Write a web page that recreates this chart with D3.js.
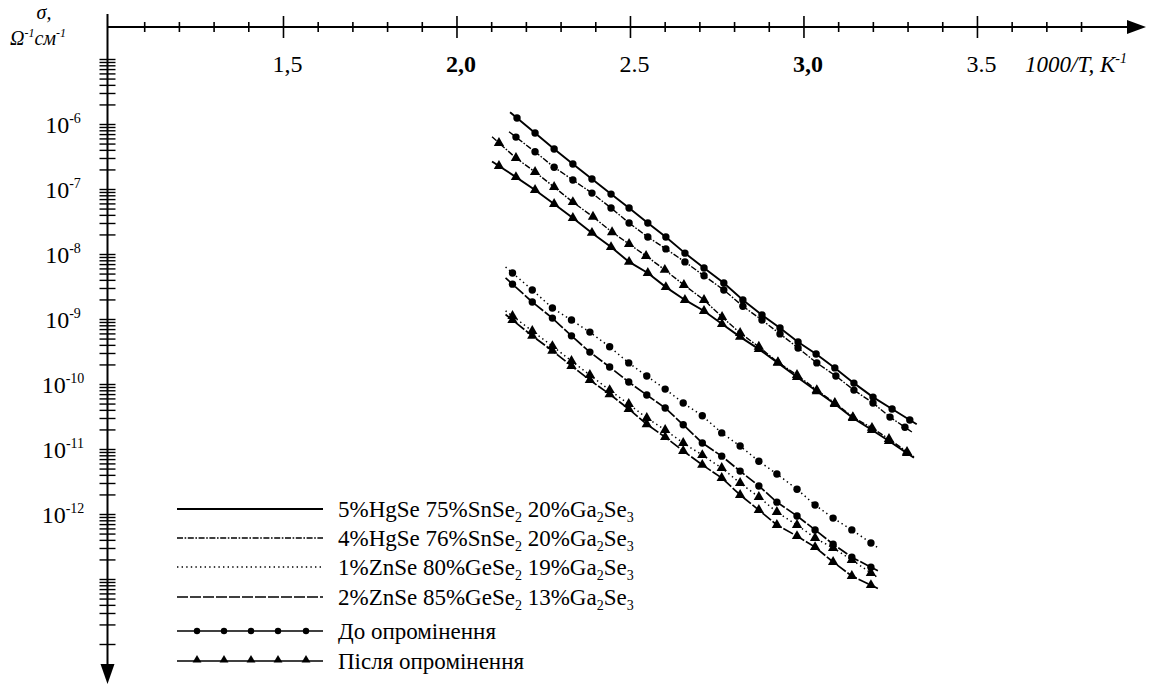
<!DOCTYPE html>
<html>
<head>
<meta charset="utf-8">
<script src="https://cdn.jsdelivr.net/npm/d3@7"></script>
<style>
  body { margin: 0; background: #fff; }
</style>
</head>
<body>
<div id="chart"></div>
<script>
// ---- data: 1000/T (K^-1) and conductivity sigma (Ohm^-1 cm^-1) ----
// 5%HgSe 75%SnSe2 20%Ga2Se3, before irradiation
const hg5Before_x = [2.173, 2.225, 2.28, 2.334, 2.389, 2.444, 2.496, 2.55, 2.602, 2.657, 2.712, 2.769, 2.824, 2.879, 2.931, 2.983, 3.035, 3.089, 3.144, 3.199, 3.254, 3.305];
const hg5Before = [1.26e-6, 7.4e-7, 4.2e-7, 2.47e-7, 1.45e-7, 8.5e-8, 5.2e-8, 3.05e-8, 1.86e-8, 1.05e-8, 6.2e-9, 3.65e-9, 2.0e-9, 1.17e-9, 7.4e-10, 4.5e-10, 2.94e-10, 1.8e-10, 1.05e-10, 6.4e-11, 4.2e-11, 2.85e-11];
// 4%HgSe 76%SnSe2 20%Ga2Se3, before irradiation
const hg4Before_x = [2.17, 2.225, 2.28, 2.334, 2.389, 2.444, 2.496, 2.55, 2.602, 2.657, 2.712, 2.769, 2.824, 2.879, 2.931, 2.983, 3.037, 3.092, 3.144, 3.199, 3.248, 3.291];
const hg4Before = [6.4e-7, 3.8e-7, 2.2e-7, 1.4e-7, 8.8e-8, 5.2e-8, 3.05e-8, 1.86e-8, 1.22e-8, 7.7e-9, 4.7e-9, 2.85e-9, 1.6e-9, 9.8e-10, 6.0e-10, 3.65e-10, 2.15e-10, 1.35e-10, 8.2e-11, 5.2e-11, 3.15e-11, 2.2e-11];
// 4%HgSe, after irradiation
const hg4After_x = [2.121, 2.17, 2.225, 2.28, 2.334, 2.392, 2.447, 2.496, 2.545, 2.599, 2.654, 2.712, 2.764, 2.816, 2.87, 2.925, 2.98, 3.037, 3.089, 3.141, 3.196, 3.245, 3.297];
const hg4After = [5.2e-7, 3.05e-7, 1.86e-7, 1.09e-7, 6.4e-8, 3.8e-8, 2.2e-8, 1.45e-8, 9.5e-9, 5.8e-9, 3.4e-9, 2.0e-9, 1.09e-9, 6.2e-10, 3.8e-10, 2.2e-10, 1.4e-10, 8.2e-11, 5.2e-11, 3.15e-11, 2.15e-11, 1.45e-11, 9.2e-12];
// 5%HgSe, after irradiation
const hg5After_x = [2.121, 2.17, 2.225, 2.28, 2.334, 2.389, 2.444, 2.496, 2.55, 2.602, 2.657, 2.712, 2.764, 2.816, 2.87, 2.925, 2.98, 3.037, 3.089, 3.141, 3.196, 3.245, 3.297];
const hg5After = [2.3e-7, 1.55e-7, 9.8e-8, 6.0e-8, 3.65e-8, 2.15e-8, 1.3e-8, 7.7e-9, 5.2e-9, 3.15e-9, 2.0e-9, 1.35e-9, 8.5e-10, 5.4e-10, 3.5e-10, 2.15e-10, 1.3e-10, 7.9e-11, 5.0e-11, 3.05e-11, 2.0e-11, 1.35e-11, 8.8e-12];
// ZnSe compositions share the temperature points
const zn_x = [2.16, 2.217, 2.275, 2.33, 2.383, 2.44, 2.495, 2.547, 2.6, 2.652, 2.707, 2.763, 2.816, 2.87, 2.922, 2.98, 3.032, 3.084, 3.138, 3.193];
// 1%ZnSe 80%GeSe2 19%Ga2Se3
const zn1Before = [5.2e-9, 2.85e-9, 1.5e-9, 9.8e-10, 6.4e-10, 3.8e-10, 2.15e-10, 1.35e-10, 8.5e-11, 5.2e-11, 3.3e-11, 1.8e-11, 1.13e-11, 6.6e-12, 4.2e-12, 2.45e-12, 1.4e-12, 8.8e-13, 5.8e-13, 3.65e-13];
const zn1After = [1.13e-9, 6.65e-10, 3.9e-10, 2.3e-10, 1.4e-10, 8.2e-11, 5.0e-11, 3.05e-11, 2.0e-11, 1.26e-11, 8.2e-12, 5.2e-12, 3.05e-12, 1.86e-12, 1.09e-12, 6.9e-13, 4.35e-13, 3.05e-13, 2.0e-13, 1.26e-13];
// 2%ZnSe 85%GeSe2 13%Ga2Se3
const zn2Before = [3.5e-9, 1.86e-9, 1.05e-9, 5.6e-10, 3.15e-10, 1.86e-10, 1.09e-10, 6.9e-11, 4.35e-11, 2.4e-11, 1.26e-11, 7.9e-12, 4.65e-12, 2.75e-12, 1.55e-12, 9.5e-13, 5.8e-13, 3.5e-13, 2.2e-13, 1.55e-13];
const zn2After = [9.8e-10, 5.6e-10, 3.3e-10, 1.93e-10, 1.17e-10, 7.1e-11, 4.2e-11, 2.45e-11, 1.55e-11, 9.5e-12, 5.8e-12, 3.65e-12, 2.0e-12, 1.17e-12, 6.9e-13, 4.65e-13, 3.15e-13, 1.86e-13, 1.13e-13, 8.2e-14];

// axis ticks / labels
const xMajor = [1.5, 2.0, 2.5, 3.0, 3.5];
const xMajorLabels = ["1,5", "2,0", "2.5", "3,0", "3.5"];
const xMajorBold = [false, true, false, true, false];
const yLabelExps = [-6, -7, -8, -9, -10, -11, -12];

// composition styles (line dash) for legend and curves
const compositions = [
    { key: "hg5", dash: null, width: 1.9, parts: [["5%HgSe 75%SnSe"], ["2", 1], [" 20%Ga"], ["2", 1], ["Se"], ["3", 1]] },
    { key: "hg4", dash: "6,1.6,1.6,1.6", width: 1.4, parts: [["4%HgSe 76%SnSe"], ["2", 1], [" 20%Ga"], ["2", 1], ["Se"], ["3", 1]] },
    { key: "zn1", dash: "1.4,3.2", width: 1.5, parts: [["1%ZnSe 80%GeSe"], ["2", 1], [" 19%Ga"], ["2", 1], ["Se"], ["3", 1]] },
    { key: "zn2", dash: "11,2", width: 1.7, parts: [["2%ZnSe 85%GeSe"], ["2", 1], [" 13%Ga"], ["2", 1], ["Se"], ["3", 1]] }
];

const series = [
    { comp: "hg5", marker: "circle", xs: hg5Before_x, ys: hg5Before },
    { comp: "hg4", marker: "circle", xs: hg4Before_x, ys: hg4Before },
    { comp: "hg4", marker: "triangle", xs: hg4After_x, ys: hg4After },
    { comp: "hg5", marker: "triangle", xs: hg5After_x, ys: hg5After },
    { comp: "zn1", marker: "circle", xs: zn_x, ys: zn1Before },
    { comp: "zn2", marker: "circle", xs: zn_x, ys: zn2Before },
    { comp: "zn1", marker: "triangle", xs: zn_x, ys: zn1After },
    { comp: "zn2", marker: "triangle", xs: zn_x, ys: zn2After }
];

const width = 1149, height = 687;
const serif = "'Liberation Serif', 'Times New Roman', Tinos, 'DejaVu Serif', serif";

const svg = d3.select("#chart")
    .append("svg")
    .attr("width", width)
    .attr("height", height)
    .attr("font-family", serif)
    .style("font-family", serif);

// scales
const x = d3.scaleLinear().domain([1, 3.98]).range([110, 1144]);
const y = d3.scaleLog().domain([1e-5, 1e-14]).range([59.5, 644.5]);

const axisY = 27;      // pixel row of the 1000/T axis
const axisX = 107.5;   // pixel column of the sigma axis

// ****************** x axis (top) ***************************
svg.append("line")
    .attr("x1", axisX).attr("x2", 1130)
    .attr("y1", axisY).attr("y2", axisY)
    .attr("stroke", "#000").attr("stroke-width", 1.8);

svg.append("path")
    .attr("d", `M1146,${axisY} L1127,${axisY - 7} L1127,${axisY + 7} Z`)
    .attr("fill", "#000");

const xMinor = d3.range(11, 39).map(d => d / 10);
const isMajor = d => xMajor.some(m => Math.abs(m - d) < 1e-6);
svg.selectAll("line.xtick")
    .data(xMinor)
    .enter()
    .append("line")
    .attr("class", "xtick")
    .attr("x1", d => x(d)).attr("x2", d => x(d))
    .attr("y1", d => isMajor(d) ? axisY - 11 : axisY - 5)
    .attr("y2", d => isMajor(d) ? axisY + 11 : axisY + 5)
    .attr("stroke", "#000").attr("stroke-width", 1.6);

svg.selectAll("text.xlabel")
    .data(xMajor)
    .enter()
    .append("text")
    .attr("class", "xlabel")
    .attr("x", d => x(d) + 4)
    .attr("y", 72)
    .attr("text-anchor", "middle")
    .style("font-size", "24px")
    .style("font-weight", (d, i) => xMajorBold[i] ? "bold" : "normal")
    .text((d, i) => xMajorLabels[i]);

const xTitle = svg.append("text")
    .attr("x", 1025).attr("y", 72)
    .style("font-size", "23px")
    .style("font-style", "italic");
xTitle.append("tspan").text("1000/T, K");
xTitle.append("tspan").attr("dy", -9).style("font-size", "14px").text("-1");

// ****************** y axis (log) ***************************
svg.append("line")
    .attr("x1", axisX).attr("x2", axisX)
    .attr("y1", 14).attr("y2", 670)
    .attr("stroke", "#000").attr("stroke-width", 2);

svg.append("path")
    .attr("d", `M${axisX},684 L${axisX - 7},664 L${axisX + 7},664 Z`)
    .attr("fill", "#000");

const yTicks = [1e-5];
for (let n = -6; n >= -14; n--) {
    for (let k = 9; k >= 1; k--) yTicks.push(k * Math.pow(10, n));
}

svg.selectAll("line.ytick")
    .data(yTicks)
    .enter()
    .append("line")
    .attr("class", "ytick")
    .attr("x1", axisX - 8).attr("x2", axisX + 8)
    .attr("y1", d => y(d)).attr("y2", d => y(d))
    .attr("stroke", "#000").attr("stroke-width", 1.4);

const yLab = svg.selectAll("text.ylabel")
    .data(yLabelExps)
    .enter()
    .append("text")
    .attr("class", "ylabel")
    .attr("x", 63)
    .attr("y", d => y(Math.pow(10, d)) + 8)
    .attr("text-anchor", "middle")
    .style("font-size", "24px");
yLab.append("tspan").text("10");
yLab.append("tspan").attr("dy", -10).style("font-size", "14px").text(d => "-" + (-d));

// axis title sigma
svg.append("text")
    .attr("x", 44).attr("y", 19)
    .attr("text-anchor", "middle")
    .style("font-size", "20px").style("font-style", "italic")
    .text("σ,");
const yTitle = svg.append("text")
    .attr("x", 10).attr("y", 45)
    .style("font-size", "20px").style("font-style", "italic");
yTitle.append("tspan").text("Ω");
yTitle.append("tspan").attr("dy", -8).style("font-size", "12px").text("-1");
yTitle.append("tspan").attr("dy", 8).text("см");
yTitle.append("tspan").attr("dy", -8).style("font-size", "12px").text("-1");

// ****************** curves ***************************
const compByKey = {};
compositions.forEach(c => compByKey[c.key] = c);

const line = d3.line()
    .x(d => x(d[0]))
    .y(d => y(d[1]));

// extend a curve a little past its end points along the end segments
function extended(pts) {
    const ext = 0.02;
    const seg = (a, b, dx) => {
        const s = (Math.log10(b[1]) - Math.log10(a[1])) / (b[0] - a[0]);
        return [a[0] + dx, Math.pow(10, Math.log10(a[1]) + s * dx)];
    };
    const n = pts.length;
    return [seg(pts[0], pts[1], -ext)].concat(pts, [seg(pts[n - 1], pts[n - 2], ext)]);
}

const triangle = d3.symbol().type(d3.symbolTriangle).size(46);

series.forEach(s => {
    const comp = compByKey[s.comp];
    const pts = s.xs.map((v, i) => [v, s.ys[i]]);
    svg.append("path")
        .attr("d", line(extended(pts)))
        .attr("fill", "none")
        .attr("stroke", "#000")
        .attr("stroke-width", comp.width)
        .attr("stroke-dasharray", comp.dash);

    if (s.marker === "circle") {
        svg.append("g").selectAll("circle")
            .data(pts)
            .enter()
            .append("circle")
            .attr("cx", d => x(d[0]))
            .attr("cy", d => y(d[1]))
            .attr("r", 3.7)
            .attr("fill", "#000");
    } else {
        svg.append("g").selectAll("path")
            .data(pts)
            .enter()
            .append("path")
            .attr("d", triangle)
            .attr("transform", d => "translate(" + x(d[0]) + "," + y(d[1]) + ")")
            .attr("fill", "#000");
    }
});

// ****************** legend ***************************
const legX1 = 177, legX2 = 323, legText = 338;
const legRows = [509, 538, 567, 597, 631, 661];

compositions.forEach((c, i) => {
    const yy = legRows[i];
    svg.append("line")
        .attr("x1", legX1).attr("x2", legX2)
        .attr("y1", yy).attr("y2", yy)
        .attr("stroke", "#000")
        .attr("stroke-width", c.width)
        .attr("stroke-dasharray", c.dash);
    const t = svg.append("text")
        .attr("x", legText).attr("y", yy + 8)
        .style("font-size", "23px");
    let shifted = false;
    c.parts.forEach(p => {
        const sub = p[1] === 1;
        const ts = t.append("tspan").text(p[0]);
        if (sub && !shifted) { ts.attr("dy", 5).style("font-size", "14px"); shifted = true; }
        else if (sub) { ts.style("font-size", "14px"); }
        else if (shifted) { ts.attr("dy", -5); shifted = false; }
    });
});

const markerRows = [
    { marker: "circle", label: "До опромінення", yy: legRows[4] },
    { marker: "triangle", label: "Після опромінення", yy: legRows[5] }
];
const legMarks = [197, 224, 251, 278, 306];

markerRows.forEach(r => {
    svg.append("line")
        .attr("x1", legX1).attr("x2", legX2)
        .attr("y1", r.yy).attr("y2", r.yy)
        .attr("stroke", "#000").attr("stroke-width", 1.6);
    legMarks.forEach(mx => {
        if (r.marker === "circle") {
            svg.append("circle").attr("cx", mx).attr("cy", r.yy).attr("r", 3.2).attr("fill", "#000");
        } else {
            svg.append("path")
                .attr("d", d3.symbol().type(d3.symbolTriangle).size(34)())
                .attr("transform", "translate(" + mx + "," + (r.yy - 1) + ")")
                .attr("fill", "#000");
        }
    });
    svg.append("text")
        .attr("x", legText).attr("y", r.yy + 8)
        .style("font-size", "23px")
        .text(r.label);
});
</script>
</body>
</html>
